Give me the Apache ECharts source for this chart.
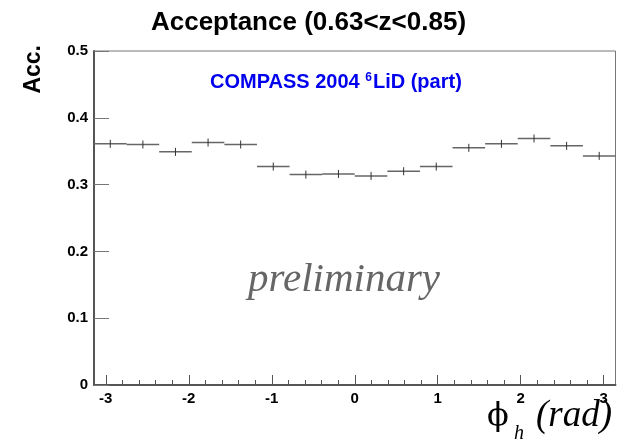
<!DOCTYPE html>
<html>
<head>
<meta charset="utf-8">
<script src="https://cdn.jsdelivr.net/npm/echarts@6/dist/echarts.min.js"></script>
<style>html,body{margin:0;padding:0;background:#fff}#c{width:617px;height:442px}</style>
</head>
<body>
<div id="c"></div>
<script>
// Bin edges in phi_h (rad): 16 bins from -pi to pi
var binEdges = [-3.1416, -2.7489, -2.3562, -1.9635, -1.5708, -1.1781, -0.7854, -0.3927, 0.0,
                0.3927, 0.7854, 1.1781, 1.5708, 1.9635, 2.3562, 2.7489, 3.1416];
// Acceptance per bin
var accValues = [0.361, 0.360, 0.349, 0.363, 0.360, 0.327, 0.315, 0.316, 0.313, 0.320, 0.327,
                 0.355, 0.361, 0.369, 0.358, 0.343];
// Statistical errors per bin
var accErrors = [0.006, 0.006, 0.006, 0.006, 0.006, 0.006, 0.006, 0.006, 0.006, 0.006, 0.006,
                 0.006, 0.006, 0.006, 0.006, 0.006];
var xMajorTicks = [-3, -2, -1, 0, 1, 2, 3];
var xMinorTicks = [-3.0, -2.8, -2.6, -2.4, -2.2, -2.0, -1.8, -1.6, -1.4, -1.2, -1.0, -0.8, -0.6, -0.4, -0.2, 0,
                   0.2, 0.4, 0.6, 0.8, 1.0, 1.2, 1.4, 1.6, 1.8, 2.0, 2.2, 2.4, 2.6, 2.8, 3.0];

var data = accValues.map(function (v, i) {
  return [binEdges[i], binEdges[i + 1], v, accErrors[i]];
});

var chart = echarts.init(document.getElementById('c'), null, {renderer: 'canvas'});
var PI = Math.PI;
chart.setOption({
  animation: false,
  backgroundColor: '#fff',
  title: {
    text: 'Acceptance (0.63<z<0.85)',
    left: 'center', top: 5,
    textStyle: {fontFamily: 'Liberation Sans', fontWeight: 'bold', fontSize: 26, color: '#000'}
  },
  grid: {left: 94, right: 1.5, top: 51, bottom: 57, show: true, borderColor: '#777', borderWidth: 1},
  xAxis: [{
    type: 'value', min: -PI, max: PI, position: 'bottom',
    axisLine: {show: true, onZero: false, lineStyle: {color: '#555', width: 2}},
    axisTick: {show: true, inside: true, length: 10, customValues: xMajorTicks, lineStyle: {color: '#555', width: 1}},
    axisLabel: {show: true, customValues: xMajorTicks, margin: 6, fontFamily: 'Liberation Sans', fontWeight: 'bold', fontSize: 15, color: '#000'},
    splitLine: {show: false}
  }, {
    type: 'value', min: -PI, max: PI, position: 'bottom',
    axisLine: {show: false, onZero: false},
    axisTick: {show: true, inside: true, length: 5, customValues: xMinorTicks, lineStyle: {color: '#555', width: 1}},
    axisLabel: {show: false},
    splitLine: {show: false}
  }],
  yAxis: {
    type: 'value', min: 0, max: 0.5, interval: 0.1,
    axisLine: {show: true, onZero: false, lineStyle: {color: '#555', width: 2}},
    axisTick: {show: true, inside: true, length: 15, lineStyle: {color: '#777', width: 1}},
    axisLabel: {margin: 6, fontFamily: 'Liberation Sans', fontWeight: 'bold', fontSize: 15, color: '#000',
      formatter: function (v) { return String(+v.toFixed(1)); }},
    splitLine: {show: false}
  },
  series: [{
    type: 'custom',
    xAxisIndex: 0,
    data: data,
    renderItem: function (params, api) {
      var lo = api.value(0), hi = api.value(1), y = api.value(2), e = api.value(3);
      var pL = api.coord([lo, y]), pR = api.coord([hi, y]);
      var c = (lo + hi) / 2;
      var pT = api.coord([c, y + e]), pB = api.coord([c, y - e]);
      return {
        type: 'group',
        children: [
          {type: 'line', shape: {x1: pL[0], y1: pL[1], x2: pR[0], y2: pR[1]},
           style: {stroke: '#666', lineWidth: 1.5}},
          {type: 'line', shape: {x1: pT[0], y1: pT[1], x2: pB[0], y2: pB[1]},
           style: {stroke: '#333', lineWidth: 1}}
        ]
      };
    }
  }],
  graphic: [
    {type: 'text', left: 22, top: 45, rotation: Math.PI / 2,
     style: {text: 'Acc.', font: 'bold 23px "Liberation Sans"', fill: '#000'}},
    {type: 'text', left: 210, top: 72,
     style: {
       text: '{a|COMPASS 2004 }{s|6}{a|LiD (part)}',
       rich: {
         a: {font: 'bold 20px "Liberation Sans"', fill: '#0000ee', verticalAlign: 'bottom'},
         s: {font: 'bold 12px "Liberation Sans"', fill: '#0000ee', verticalAlign: 'top', padding: [0, 1, 8, 0]}
       }
     }},
    {type: 'text', left: 248, top: 260,
     style: {text: 'preliminary', font: 'italic 41px "Liberation Serif"', fill: '#666'}},
    {type: 'text', left: 487, top: 401,
     style: {text: 'ϕ', font: '32px "DejaVu Serif"', fill: '#000'}},
    {type: 'text', left: 514, top: 424,
     style: {text: 'h', font: 'italic 20px "Liberation Serif"', fill: '#000'}},
    {type: 'text', right: 5, top: 398,
     style: {text: '(rad)', font: 'italic 37px "Liberation Serif"', fill: '#000'}}
  ]
});
</script>
</body>
</html>
